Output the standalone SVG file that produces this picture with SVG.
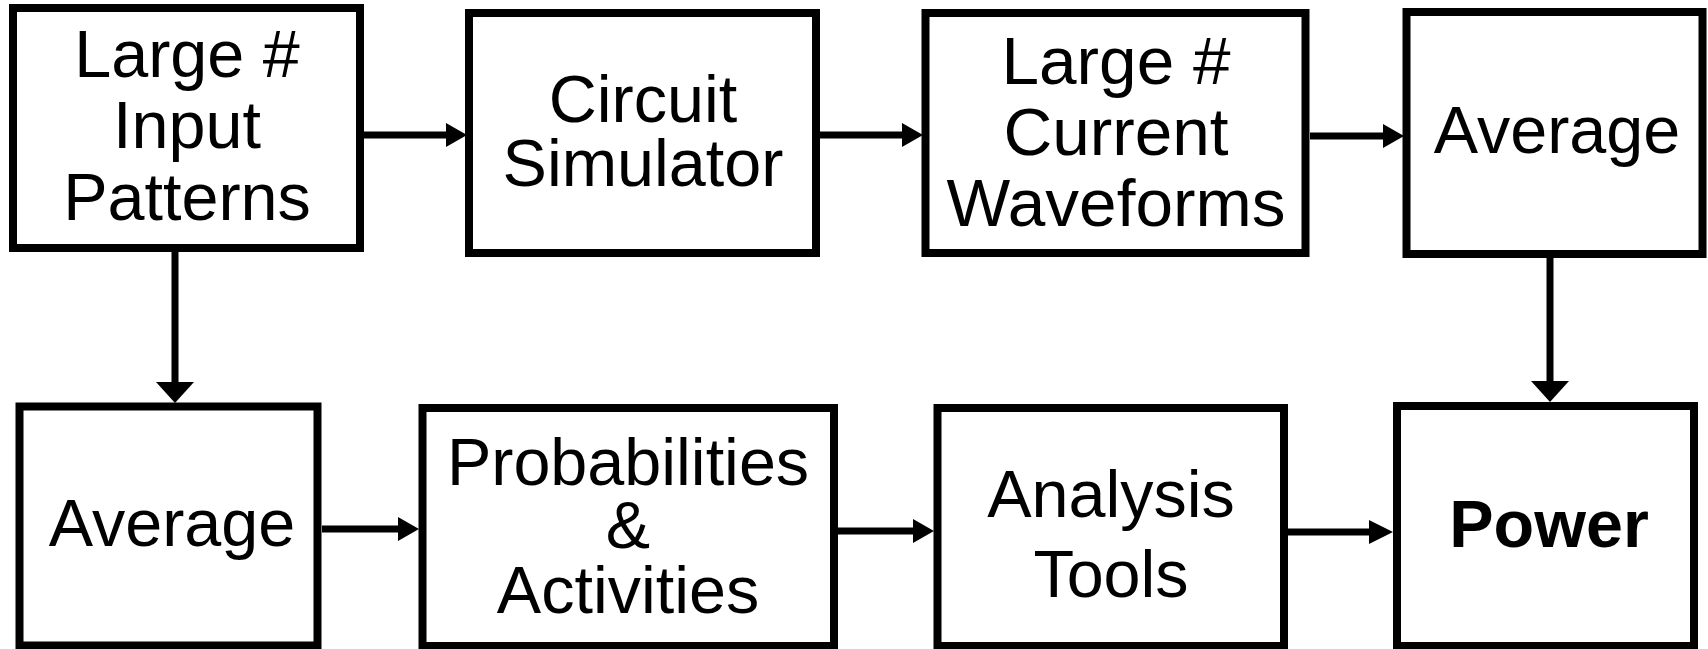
<svg xmlns="http://www.w3.org/2000/svg" width="1708" height="649" viewBox="0 0 1708 649">
  <style>
    .box { fill: #ffffff; stroke: #000000; stroke-width: 8; }
    .lbl { font-family: "Liberation Sans", Arial, sans-serif; font-size: 66.5px; fill: #000000; text-anchor: middle; }
    .big { font-size: 67.5px; }
    .bold { font-weight: bold; }
    .wire { stroke: #000000; stroke-width: 7; fill: none; }
    .head { fill: #000000; stroke: none; }
  </style>
  <rect width="1708" height="649" fill="#ffffff"/>

  <!-- connectors -->
  <g id="connectors">
    <!-- top row, left to right -->
    <line class="wire" x1="363" y1="135" x2="448" y2="135"/>
    <polygon class="head" points="446,123 467,135 446,147"/>
    <line class="wire" x1="819" y1="135" x2="904" y2="135"/>
    <polygon class="head" points="902,123 923,135 902,147"/>
    <line class="wire" x1="1310" y1="136" x2="1385" y2="136"/>
    <polygon class="head" points="1383,124 1404,136 1383,148"/>
    <!-- bottom row, left to right -->
    <line class="wire" x1="322" y1="529" x2="400" y2="529"/>
    <polygon class="head" points="398,517 419,529 398,541"/>
    <line class="wire" x1="837" y1="531" x2="915" y2="531"/>
    <polygon class="head" points="913,519 934,531 913,543"/>
    <line class="wire" x1="1288" y1="532" x2="1371" y2="532"/>
    <polygon class="head" points="1369,520 1393,532 1369,544"/>
    <!-- verticals -->
    <line class="wire" x1="175" y1="252" x2="175" y2="384"/>
    <polygon class="head" points="156,382 194,382 175,403"/>
    <line class="wire" x1="1550" y1="258" x2="1550" y2="383"/>
    <polygon class="head" points="1531,381 1569,381 1550,402"/>
  </g>

  <g id="input-patterns">
    <rect class="box" x="13" y="8" width="347" height="240"/>
    <text class="lbl" x="187" y="77">Large #</text>
    <text class="lbl" x="187" y="148">Input</text>
    <text class="lbl" x="187" y="220">Patterns</text>
  </g>

  <g id="circuit-simulator">
    <rect class="box" x="469" y="13" width="347" height="240"/>
    <text class="lbl" x="643" y="122">Circuit</text>
    <text class="lbl" x="643" y="186">Simulator</text>
  </g>

  <g id="current-waveforms">
    <rect class="box" x="925.5" y="13" width="380" height="240"/>
    <text class="lbl big" x="1116" y="84">Large #</text>
    <text class="lbl big" x="1116" y="155">Current</text>
    <text class="lbl big" x="1116" y="226">Waveforms</text>
  </g>

  <g id="average-top">
    <rect class="box" x="1406.5" y="12" width="296" height="242"/>
    <text class="lbl" x="1557" y="153">Average</text>
  </g>

  <g id="average-bottom">
    <rect class="box" x="19.5" y="406.5" width="298" height="239"/>
    <text class="lbl" x="172" y="546">Average</text>
  </g>

  <g id="probabilities">
    <rect class="box" x="422.5" y="408" width="411.5" height="238"/>
    <text class="lbl" x="628" y="485">Probabilities</text>
    <text class="lbl" x="628" y="548">&amp;</text>
    <text class="lbl" x="628" y="613">Activities</text>
  </g>

  <g id="analysis-tools">
    <rect class="box" x="937.5" y="408" width="346.5" height="238"/>
    <text class="lbl" x="1111" y="517">Analysis</text>
    <text class="lbl" x="1111" y="597">Tools</text>
  </g>

  <g id="power">
    <rect class="box" x="1397" y="406" width="297" height="240"/>
    <text class="lbl bold" x="1549" y="547">Power</text>
  </g>
</svg>
